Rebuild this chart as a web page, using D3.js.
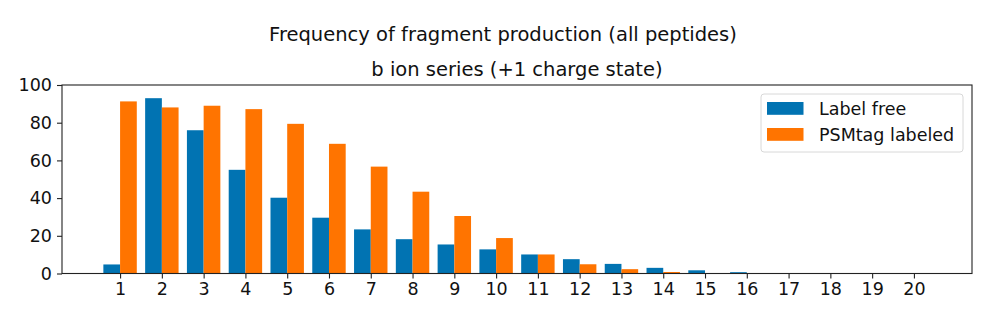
<!DOCTYPE html>
<html>
<head>
<meta charset="utf-8">
<script src="https://cdn.jsdelivr.net/npm/d3@7"></script>
<style>
  html, body { margin: 0; padding: 0; background: #fff; }
  svg { display: block; font-family: "DejaVu Sans", sans-serif; }
</style>
</head>
<body>
<svg id="chart" width="1000" height="329"></svg>
<script>
// Fragment position (b ion index)
const positions = [1, 2, 3, 4, 5, 6, 7, 8, 9, 10, 11, 12, 13, 14, 15, 16, 17, 18, 19, 20];
// Frequency (%) of each fragment being produced
const labelFree = [4.8, 93, 76, 55, 40.2, 29.6, 23.4, 18.2, 15.4, 12.8, 10.1, 7.6, 5.1, 3.0, 1.7, 0.7, 0.15, 0.1, 0.05, 0.05];
const psmtagLabeled = [91.3, 88.1, 89, 87.2, 79.4, 68.8, 56.7, 43.4, 30.5, 18.8, 10.1, 4.9, 2.3, 0.8, 0.15, 0.05, 0, 0, 0, 0];
const seriesNames = ["Label free", "PSMtag labeled"];
const yTicks = [0, 20, 40, 60, 80, 100];
const titleText = "Frequency of fragment production (all peptides)";
const subtitleText = "b ion series (+1 charge state)";

const colors = ["#0173b2", "#ff7400"];
const barW = 0.4;
const fs = "17.5px";

const svg = d3.select("#chart");
const m = { left: 62, right: 972, top: 85, bottom: 273.5 };

// data spans [1 - barW, 20 + barW]; pad 5% each side
const lo = positions[0] - barW, hi = positions[positions.length - 1] + barW;
const pad = (hi - lo) * 0.05;
const x = d3.scaleLinear().domain([lo - pad, hi + pad]).range([m.left, m.right]);
const y = d3.scaleLinear().domain([0, 100]).range([m.bottom, m.top]);

// bars: label-free sits left of the tick, labeled right of it
const series = [labelFree, psmtagLabeled];
series.forEach((vals, s) => {
  svg.append("g").selectAll("rect")
    .data(positions.map((p, i) => ({ p, v: vals[i] })))
    .join("rect")
    .attr("x", d => x(s === 0 ? d.p - barW : d.p))
    .attr("width", d => x(d.p + barW) - x(d.p))
    .attr("y", d => y(d.v))
    .attr("height", d => y(0) - y(d.v))
    .attr("fill", colors[s]);
});

// axes
const xAxis = d3.axisBottom(x).tickValues(positions).tickFormat(d3.format("d")).tickSize(5).tickPadding(4);
const yAxis = d3.axisLeft(y).tickValues(yTicks).tickSize(5).tickPadding(5);

const gx = svg.append("g").attr("transform", `translate(0,${m.bottom})`).call(xAxis);
const gy = svg.append("g").attr("transform", `translate(${m.left},0)`).call(yAxis);
[gx, gy].forEach(g => {
  g.select(".domain").remove();
  g.selectAll(".tick line").attr("stroke", "#222").attr("stroke-width", 1.1);
  g.selectAll(".tick text").attr("fill", "#111").style("font-size", fs).style("font-family", "DejaVu Sans");
});

// frame
svg.append("rect")
  .attr("x", m.left).attr("y", m.top)
  .attr("width", m.right - m.left).attr("height", m.bottom - m.top)
  .attr("fill", "none").attr("stroke", "#222").attr("stroke-width", 1.1);

// figure title centred on the page, subtitle centred on the plot
svg.append("text").attr("x", 503).attr("y", 41).attr("text-anchor", "middle")
  .style("font-size", "19.5px").attr("fill", "#111").text(titleText);
svg.append("text").attr("x", (m.left + m.right) / 2).attr("y", 75.5).attr("text-anchor", "middle")
  .style("font-size", "19.5px").attr("fill", "#111").text(subtitleText);

// legend
const lg = svg.append("g").attr("transform", "translate(761,94)");
lg.append("rect").attr("width", 202).attr("height", 58).attr("rx", 3)
  .attr("fill", "#fff").attr("fill-opacity", 0.8).attr("stroke", "#d8d8d8");
seriesNames.forEach((name, i) => {
  const row = lg.append("g").attr("transform", `translate(6,${8 + i * 26})`);
  row.append("rect").attr("width", 36.5).attr("height", 12.8).attr("fill", colors[i]);
  row.append("text").attr("x", 52).attr("y", 12.5).style("font-size", fs).attr("fill", "#111").text(name);
});
</script>
</body>
</html>
